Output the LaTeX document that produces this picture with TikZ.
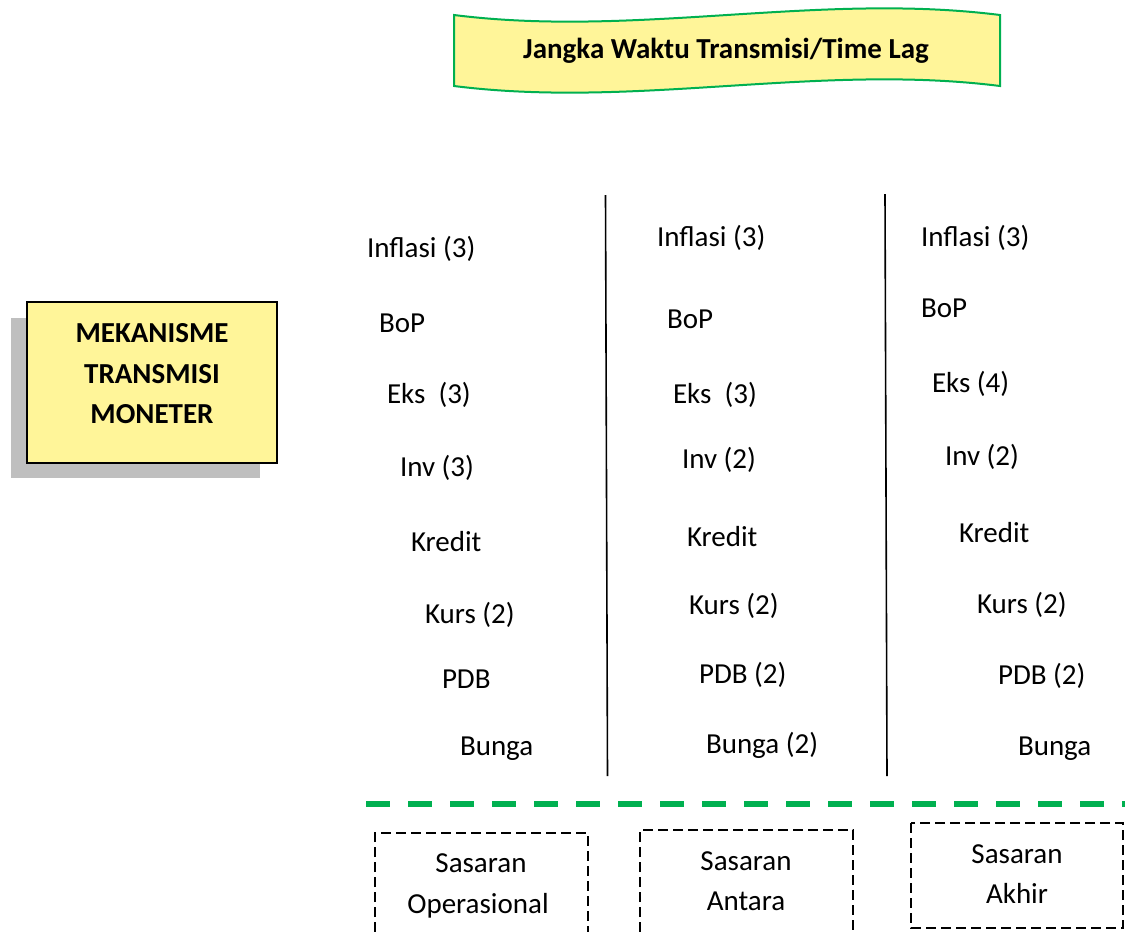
\documentclass[tikz,border=0pt]{standalone}
\usepackage{fontspec}
\setmainfont{Carlito}
\definecolor{paleyellow}{HTML}{FFF599}
\definecolor{officegreen}{HTML}{00B050}
\definecolor{shadowgray}{HTML}{BFBFBF}
\begin{document}
\begin{tikzpicture}[x=1pt,y=-1pt,
  every node/.style={inner sep=0pt,outer sep=0pt,font=\fontsize{29}{41}\selectfont},
  lbl/.style={anchor=base west},
  ctr/.style={anchor=base},
  divider/.style={draw=black,line width=1.6pt},
  dashbox/.style={draw=black,line width=1.8pt,dash pattern=on 10pt off 5pt},
  greendash/.style={draw=officegreen,line width=5.5pt,dash pattern=on 24pt off 18pt}]
\useasboundingbox (0,0) rectangle (1125,932);

% banner
\path[fill=paleyellow,draw=officegreen,line width=2pt]
  (454,15) .. controls (636,38) and (818,-8) .. (1000,15)
  -- (1000,86) .. controls (818,63) and (636,109) .. (454,86) -- cycle;
\node[ctr] (title) at (726,58) {\textbf{Jangka Waktu Transmisi/Time Lag}};

% main box with shadow
\fill[shadowgray] (11,318) rectangle (260,478);
\draw[fill=paleyellow,line width=2pt] (27,302) rectangle (277,463);
\node[ctr] (mek1) at (152,342) {\textbf{MEKANISME}};
\node[ctr] (mek2) at (152,383) {\textbf{TRANSMISI}};
\node[ctr] (mek3) at (152,423) {\textbf{MONETER}};

% column 1
\node[lbl] (a1) at (367,257) {Inflasi (3)};
\node[lbl] (a2) at (379,332) {BoP};
\node[lbl] (a3) at (387,403) {Eks\ \ (3)};
\node[lbl] (a4) at (400,476) {Inv (3)};
\node[lbl] (a5) at (411,551) {Kredit};
\node[lbl] (a6) at (425,623) {Kurs (2)};
\node[lbl] (a7) at (442,688) {PDB};
\node[lbl] (a8) at (460,755) {Bunga};

% column 2
\node[lbl] (b1) at (657,246) {Inflasi (3)};
\node[lbl] (b2) at (667,328) {BoP};
\node[lbl] (b3) at (673,403) {Eks\ \ (3)};
\node[lbl] (b4) at (682,468) {Inv (2)};
\node[lbl] (b5) at (687,546) {Kredit};
\node[lbl] (b6) at (689,614) {Kurs (2)};
\node[lbl] (b7) at (699,683) {PDB (2)};
\node[lbl] (b8) at (706,753) {Bunga (2)};

% column 3
\node[lbl] (c1) at (921,246) {Inflasi (3)};
\node[lbl] (c2) at (921,317) {BoP};
\node[lbl] (c3) at (932,392) {Eks (4)};
\node[lbl] (c4) at (945,465) {Inv (2)};
\node[lbl] (c5) at (959,542) {Kredit};
\node[lbl] (c6) at (977,613) {Kurs (2)};
\node[lbl] (c7) at (998,684) {PDB (2)};
\node[lbl] (c8) at (1018,755) {Bunga};

% dividers
\coordinate (v1t) at (605.5,195);
\coordinate (v1b) at (607.5,776);
\coordinate (v2t) at (885,194);
\coordinate (v2b) at (887,776);
\draw[divider] (v1t) -- (v1b);
\draw[divider] (v2t) -- (v2b);

% green dashed separator
\coordinate (gl) at (366,804);
\coordinate (gr) at (1125,804);
\draw[greendash] (gl) -- (gr);

% target boxes
\draw[dashbox] (375,932) |- (588,833) -- (588,932);
\draw[dashbox] (640,932) |- (853,830) -- (853,932);
\draw[dashbox] (911,823) rectangle (1123,928);
\node[ctr] (s1a) at (481,872) {Sasaran};
\node[ctr] (s1b) at (478,913) {Operasional};
\node[ctr] (s2a) at (746,870) {Sasaran};
\node[ctr] (s2b) at (746,910) {Antara};
\node[ctr] (s3a) at (1017,863) {Sasaran};
\node[ctr] (s3b) at (1017,903) {Akhir};
\end{tikzpicture}
\end{document}
